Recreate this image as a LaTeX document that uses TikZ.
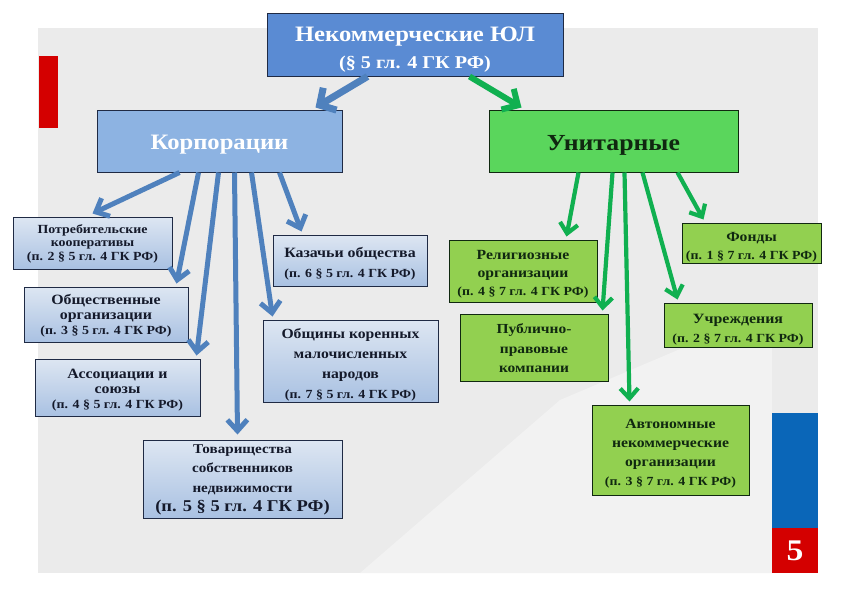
\documentclass[tikz,border=0pt]{standalone}
\usepackage{fontspec}
\setmainfont[FakeStretch=1.12]{Liberation Serif}
\usetikzlibrary{arrows.meta,calc}
\definecolor{bgray}{HTML}{EBEBEB}
\definecolor{bglight}{HTML}{F2F2F2}
\definecolor{titleblue}{HTML}{5A8BD3}
\definecolor{corpblue}{HTML}{8DB3E2}
\definecolor{unitgreen}{HTML}{5AD65C}
\definecolor{leafgreen}{HTML}{92D050}
\definecolor{arrblue}{HTML}{4F81BD}
\definecolor{arrgreen}{HTML}{10B050}
\definecolor{navy}{HTML}{1F2A44}
\definecolor{darktext}{HTML}{14192A}
\definecolor{gtext}{HTML}{102810}
\definecolor{barblue}{HTML}{0A66B8}
\definecolor{barred}{HTML}{D40000}
\definecolor{leaftop}{HTML}{DDE6F2}
\definecolor{leafbot}{HTML}{A9C1E2}
\newcommand{\citeline}[1]{{\fontsize{12.4}{12.4}\selectfont #1}}
\tikzset{
  box/.style={draw=navy, line width=1pt, inner sep=0pt},
  bleaf/.style={box, top color=leaftop, bottom color=leafbot},
  gleaf/.style={box, fill=leafgreen, draw=gtext},
  btext/.style={inner sep=0pt, align=center, text=darktext},
  gtxt/.style={inner sep=0pt, align=center, text=gtext},
  barr/.style={draw=arrblue, line width=5pt, -{Straight Barb[length=11pt,width=20pt]}},
  garr/.style={draw=arrgreen, line width=4.2pt, -{Straight Barb[length=10pt,width=18pt]}},
}
\begin{document}
\begin{tikzpicture}[x=1pt,y=-1pt]
\useasboundingbox (0,0) rectangle (842,595);
\fill[white] (0,0) rectangle (842,595);
\fill[bgray] (38,28) rectangle (818,573);
\fill[bglight] (360,573) -- (560,400) -- (772,310) -- (772,573) -- cycle;
\fill[barred] (39,56) rectangle (58,128);
\fill[barblue] (772,413) rectangle (818,528);
\fill[barred] (772,528) rectangle (818,573);
\node[text=white, font=\bfseries\fontsize{30}{30}\selectfont] (num) at (795,551) {5};

% main boxes
\node[box, fill=titleblue, minimum width=296pt, minimum height=63pt] (title) at (415,44.5) {};
\node[btext, text=white, font=\bfseries\fontsize{22}{27}\selectfont] (title-t) at ([yshift=-5.5pt]title.center)
  {Некоммерческие ЮЛ\\{\fontsize{18}{18}\selectfont (§ 5 гл. 4 ГК РФ)}};
\node[box, fill=corpblue, minimum width=245pt, minimum height=62pt] (corp) at (219.5,141) {};
\node[btext, text=white, font=\bfseries\fontsize{22}{26}\selectfont] (corp-t) at ([yshift=-4pt]corp.center) {Корпорации};
\node[box, fill=unitgreen, draw=gtext, minimum width=249pt, minimum height=62pt] (unit) at (613.5,141) {};
\node[gtxt, font=\bfseries\fontsize{23}{26}\selectfont] (unit-t) at ([yshift=-4pt]unit.center) {Унитарные};

% corporation leaves
\node[bleaf, minimum width=159pt, minimum height=52pt] (potr) at (92.5,243) {};
\node[btext, font=\bfseries\fontsize{12.4}{12.5}\selectfont] (potr-t) at ([yshift=-1pt]potr.center)
  {Потребительские\\кооперативы\\[2pt]\citeline{(п. 2 § 5 гл. 4 ГК РФ)}};
\node[bleaf, minimum width=164pt, minimum height=55pt] (obsh) at (106,314.5) {};
\node[btext, font=\bfseries\fontsize{14.2}{15}\selectfont] (obsh-t) at ([yshift=-1.5pt]obsh.center)
  {Общественные\\организации\\\citeline{(п. 3 § 5 гл. 4 ГК РФ)}};
\node[bleaf, minimum width=165pt, minimum height=57pt] (assoc) at (117.5,387.5) {};
\node[btext, font=\bfseries\fontsize{14.2}{15}\selectfont] (assoc-t) at ([yshift=-2.5pt]assoc.center)
  {Ассоциации и\\союзы\\\citeline{(п. 4 § 5 гл. 4 ГК РФ)}};
\node[bleaf, minimum width=199pt, minimum height=78pt] (tov) at (242.5,479) {};
\node[btext, font=\bfseries\fontsize{13.5}{19.5}\selectfont] (tov-t) at ([yshift=-1pt]tov.center)
  {Товарищества\\собственников\\недвижимости\\{\fontsize{16.5}{16.5}\selectfont (п. 5 § 5 гл. 4 ГК РФ)}};
\node[bleaf, minimum width=154pt, minimum height=51pt] (kaz) at (350,260.5) {};
\node[btext, font=\bfseries\fontsize{14.2}{20}\selectfont] (kaz-t) at ([yshift=-3.5pt]kaz.center)
  {Казачьи общества\\\citeline{(п. 6 § 5 гл. 4 ГК РФ)}};
\node[bleaf, minimum width=175pt, minimum height=82pt] (obshch) at (350.5,361) {};
\node[btext, font=\bfseries\fontsize{14}{20}\selectfont] (obshch-t) at ([yshift=-4pt]obshch.center)
  {Общины коренных\\малочисленных\\народов\\\citeline{(п. 7 § 5 гл. 4 ГК РФ)}};

% unitary leaves
\node[gleaf, minimum width=148pt, minimum height=62pt] (relig) at (523,271) {};
\node[gtxt, font=\bfseries\fontsize{14}{18}\selectfont] (relig-t) at ([yshift=-3.5pt]relig.center)
  {Религиозные\\организации\\\citeline{(п. 4 § 7 гл. 4 ГК РФ)}};
\node[gleaf, minimum width=148pt, minimum height=67pt] (publ) at (534,347.5) {};
\node[gtxt, font=\bfseries\fontsize{13.8}{19.5}\selectfont] (publ-t) at ([yshift=-1pt]publ.center)
  {Публично-\\правовые\\компании};
\node[gleaf, minimum width=157pt, minimum height=90pt] (auto) at (670.5,450) {};
\node[gtxt, font=\bfseries\fontsize{14}{19}\selectfont] (auto-t) at ([yshift=-4pt]auto.center)
  {Автономные\\некоммерческие\\организации\\\citeline{(п. 3 § 7 гл. 4 ГК РФ)}};
\node[gleaf, minimum width=139pt, minimum height=40pt] (fond) at (751.5,243) {};
\node[gtxt, font=\bfseries\fontsize{14}{18}\selectfont] (fond-t) at ([yshift=-4.5pt]fond.center)
  {Фонды\\\citeline{(п. 1 § 7 гл. 4 ГК РФ)}};
\node[gleaf, minimum width=148pt, minimum height=44pt] (uchr) at (738,325) {};
\node[gtxt, font=\bfseries\fontsize{14.2}{19}\selectfont] (uchr-t) at ([yshift=-5pt]uchr.center)
  {Учреждения\\\citeline{(п. 2 § 7 гл. 4 ГК РФ)}};

% top arrows
\draw[draw=arrblue, line width=7pt, -{Straight Barb[length=12pt,width=26pt]}]
  ([xshift=101pt]title.south west) -- ([xshift=219pt,yshift=2pt]corp.north west);
\draw[draw=arrgreen, line width=6pt, -{Straight Barb[length=12pt,width=24pt]}]
  ([xshift=203pt]title.south west) -- ([xshift=33pt,yshift=2pt]unit.north west);

% corporation arrows
\draw[barr] ([xshift=83pt]corp.south west) -- ([xshift=80pt,yshift=3pt]potr.north west);
\draw[barr] ([xshift=102pt]corp.south west) -- ([xshift=153pt,yshift=3pt]obsh.north west);
\draw[barr] ([xshift=122pt]corp.south west) -- ([xshift=162pt,yshift=3pt]assoc.north west);
\draw[barr] ([xshift=138pt]corp.south west) -- ([xshift=95pt,yshift=5pt]tov.north west);
\draw[barr] ([xshift=155pt]corp.south west) -- ([xshift=10pt,yshift=3pt]obshch.north west);
\draw[barr] ([xshift=183pt]corp.south west) -- ([xshift=29pt,yshift=3pt]kaz.north west);

% unitary arrows
\draw[garr] ([xshift=90pt]unit.south west) -- ([xshift=118pt,yshift=3pt]relig.north west);
\draw[garr] ([xshift=124pt]unit.south west) -- ([xshift=143pt,yshift=3pt]publ.north west);
\draw[garr] ([xshift=136pt]unit.south west) -- ([xshift=38pt,yshift=3pt]auto.north west);
\draw[garr] ([xshift=154pt]unit.south west) -- ([xshift=14pt,yshift=3pt]uchr.north west);
\draw[garr] ([xshift=189pt]unit.south west) -- ([xshift=22pt,yshift=3pt]fond.north west);
\end{tikzpicture}
\end{document}
